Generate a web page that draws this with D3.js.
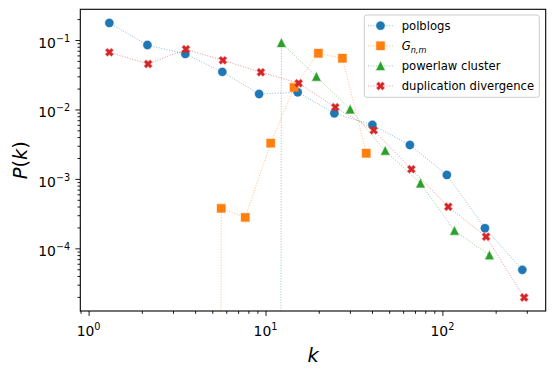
<!DOCTYPE html>
<html>
<head>
<meta charset="utf-8">
<script src="https://cdn.jsdelivr.net/npm/d3@7"></script>
<style>
  body { margin: 0; background: #fff; }
  svg { display: block; font-family: "DejaVu Sans", sans-serif; }
</style>
</head>
<body>
<div id="chart"></div>
<script>
// degree distributions, log-binned (k, P(k)); 0 = empty bin (clipped like matplotlib)
const polblogsK = [1.31, 2.15, 3.52, 5.7, 9.2, 15.2, 24.5, 40.2, 65.5, 106, 174, 283];
const polblogsP = [0.176, 0.0847, 0.063, 0.0347, 0.0167, 0.0177, 0.0088, 0.006, 0.00308, 0.00114, 0.000195, 0.000049];

const gnmK = [4.1, 5.62, 7.68, 10.7, 14.5, 19.9, 27.2, 37.1];
const gnmP = [0, 0.000377, 0.000279, 0.00327, 0.0208, 0.0644, 0.0546, 0.00234];

const plcK = [7.9, 12.3, 19.4, 30.1, 47.5, 75.2, 117, 184.5];
const plcP = [0, 0.0914, 0.0297, 0.01007, 0.00255, 0.000865, 0.00018, 0.00008];

const dupK = [1.31, 2.17, 3.55, 5.74, 9.42, 15.4, 24.8, 40.9, 66.8, 108, 176.6, 290];
const dupP = [0.0665, 0.0452, 0.0735, 0.051, 0.0343, 0.0238, 0.01076, 0.00502, 0.00138, 0.000397, 0.000147, 0.0000196];

const seriesNames = ["polblogs", "G_{n,m}", "powerlaw cluster", "duplication divergence"];
const seriesColors = ["#1f77b4", "#ff7f0e", "#2ca02c", "#d62728"];
const seriesMarkers = ["circle", "square", "triangle", "x"];

const xTickExp = [0, 1, 2];
const yTickExp = [-1, -2, -3, -4];

const width = 554, height = 374;
const margin = { top: 9.3, right: 8.3, bottom: 63, left: 80.3 };
const ms = 8.33; // marker size (6pt)

const series = [
  { k: polblogsK, p: polblogsP },
  { k: gnmK, p: gnmP },
  { k: plcK, p: plcP },
  { k: dupK, p: dupP }
].map((s, i) => ({
  name: seriesNames[i], color: seriesColors[i], marker: seriesMarkers[i],
  points: s.k.map((k, j) => ({ k: k, p: s.p[j] }))
}));

const svg = d3.select("#chart").append("svg")
  .attr("width", width).attr("height", height);

const x = d3.scaleLog()
  .domain([Math.pow(10, -0.047), Math.pow(10, 2.584)])
  .range([margin.left, width - margin.right]);
const y = d3.scaleLog()
  .domain([Math.pow(10, -4.902), Math.pow(10, -0.558)])
  .range([height - margin.bottom, margin.top]);

svg.append("defs").append("clipPath").attr("id", "plotclip")
  .append("rect")
  .attr("x", margin.left).attr("y", margin.top)
  .attr("width", width - margin.left - margin.right)
  .attr("height", height - margin.top - margin.bottom);

// minor / major tick values
function minorTicks(scale) {
  const [a, b] = scale.domain();
  const out = [];
  for (let e = Math.floor(Math.log10(a)); e <= Math.ceil(Math.log10(b)); e++) {
    for (let m = 2; m <= 9; m++) {
      const v = m * Math.pow(10, e);
      if (v >= a && v <= b) out.push(v);
    }
  }
  return out;
}

const xAxisG = svg.append("g").attr("transform", `translate(0,${height - margin.bottom})`);
xAxisG.append("g").call(d3.axisBottom(x).tickValues(xTickExp.map(e => Math.pow(10, e))).tickSize(4.9).tickFormat(""));
xAxisG.append("g").call(d3.axisBottom(x).tickValues(minorTicks(x)).tickSize(2.8).tickFormat(""));

const yAxisG = svg.append("g").attr("transform", `translate(${margin.left},0)`);
yAxisG.append("g").call(d3.axisLeft(y).tickValues(yTickExp.map(e => Math.pow(10, e))).tickSize(4.9).tickFormat(""));
yAxisG.append("g").call(d3.axisLeft(y).tickValues(minorTicks(y)).tickSize(2.8).tickFormat(""));

svg.selectAll(".domain").remove();
svg.selectAll(".tick line").attr("stroke", "#000").attr("stroke-width", 0.9);

// tick labels with superscripts
function powLabel(g, e) {
  g.append("tspan").text("10");
  g.append("tspan").attr("dy", -6.2).attr("font-size", 9.7)
    .text(e < 0 ? "\u2212" + (-e) : String(e));
}
xTickExp.forEach(e => {
  const t = svg.append("text")
    .attr("x", x(Math.pow(10, e))).attr("y", 336)
    .attr("text-anchor", "middle").attr("font-size", 13.9).attr("fill", "#000");
  powLabel(t, e);
});
yTickExp.forEach(e => {
  const t = svg.append("text")
    .attr("x", 70.2).attr("y", y(Math.pow(10, e)) + 7.8)
    .attr("text-anchor", "end").attr("font-size", 13.9).attr("fill", "#000");
  powLabel(t, e);
});

// axis labels
svg.append("text")
  .attr("x", (margin.left + width - margin.right) / 2).attr("y", 361.5)
  .attr("text-anchor", "middle").attr("font-size", 19.4).attr("font-style", "italic")
  .text("k");
const yl = svg.append("text")
  .attr("transform", `translate(26.5,${(margin.top + height - margin.bottom) / 2}) rotate(-90)`)
  .attr("text-anchor", "middle").attr("font-size", 19.4);
yl.append("tspan").attr("font-style", "italic").text("P");
yl.append("tspan").text("(");
yl.append("tspan").attr("font-style", "italic").text("k");
yl.append("tspan").text(")");

// marker shapes
function markerPath(type) {
  const h = ms / 2;
  if (type === "square") return `M${-h},${-h}H${h}V${h}H${-h}Z`;
  if (type === "triangle") return `M0,${-h}L${h},${h}L${-h},${h}Z`;
  if (type === "x") {
    const pts = [[-1, -3], [1, -3], [1, -1], [3, -1], [3, 1], [1, 1],
                 [1, 3], [-1, 3], [-1, 1], [-3, 1], [-3, -1], [-1, -1]]
      .map(([a, b]) => {
        const c = Math.SQRT1_2;
        const u = (a * c - b * c) / 6 * ms, v = (a * c + b * c) / 6 * ms;
        return [u, v];
      });
    return "M" + pts.map(p => p.join(",")).join("L") + "Z";
  }
  return d3.arc()({ innerRadius: 0, outerRadius: h, startAngle: 0, endAngle: 2 * Math.PI });
}

// lines (zeros clipped far below the axes like matplotlib's nonpositive='clip')
const line = d3.line()
  .x(d => x(d.k))
  .y(d => d.p > 0 ? y(d.p) : y(1e-300));

const plot = svg.append("g").attr("clip-path", "url(#plotclip)");
series.forEach(s => {
  const g = plot.append("g");
  g.append("path")
    .datum(s.points)
    .attr("d", line)
    .attr("fill", "none")
    .attr("stroke", s.color)
    .attr("stroke-width", 1)
    .attr("stroke-opacity", 0.5)
    .attr("stroke-dasharray", "1,1.65");
  g.selectAll("path.mk")
    .data(s.points.filter(d => d.p > 0))
    .join("path")
    .attr("class", "mk")
    .attr("d", markerPath(s.marker))
    .attr("transform", d => `translate(${x(d.k)},${y(d.p)})`)
    .attr("fill", s.color)
    .attr("stroke", s.color)
    .attr("stroke-opacity", 0.35)
    .attr("stroke-width", 1.2);
});

// frame
svg.append("rect")
  .attr("x", margin.left).attr("y", margin.top)
  .attr("width", width - margin.left - margin.right)
  .attr("height", height - margin.top - margin.bottom)
  .attr("fill", "none").attr("stroke", "#000").attr("stroke-width", 1.1);

// legend
const lg = svg.append("g");
lg.append("rect")
  .attr("x", 364.3).attr("y", 15).attr("width", 175).attr("height", 82.3)
  .attr("rx", 2.5)
  .attr("fill", "#fff").attr("fill-opacity", 0.8)
  .attr("stroke", "#cccccc").attr("stroke-width", 1);
series.forEach((s, i) => {
  const cy = 25.7 + i * 20.1;
  lg.append("line")
    .attr("x1", 368).attr("x2", 393).attr("y1", cy).attr("y2", cy)
    .attr("stroke", s.color).attr("stroke-width", 1).attr("stroke-opacity", 0.5)
    .attr("stroke-dasharray", "1,1.65");
  lg.append("path")
    .attr("d", markerPath(s.marker))
    .attr("transform", `translate(380.5,${cy})`)
    .attr("fill", s.color).attr("stroke", s.color)
    .attr("stroke-opacity", 0.35).attr("stroke-width", 1.2);
  const t = lg.append("text")
    .attr("x", 401.7).attr("y", cy + 4.3)
    .attr("font-size", 11.6).attr("fill", "#000");
  if (s.name === "G_{n,m}") {
    t.append("tspan").attr("font-style", "italic").text("G");
    t.append("tspan").attr("font-style", "italic").attr("font-size", 8.2).attr("dy", 2.4).text("n,m");
  } else {
    t.text(s.name);
  }
});
</script>
</body>
</html>
